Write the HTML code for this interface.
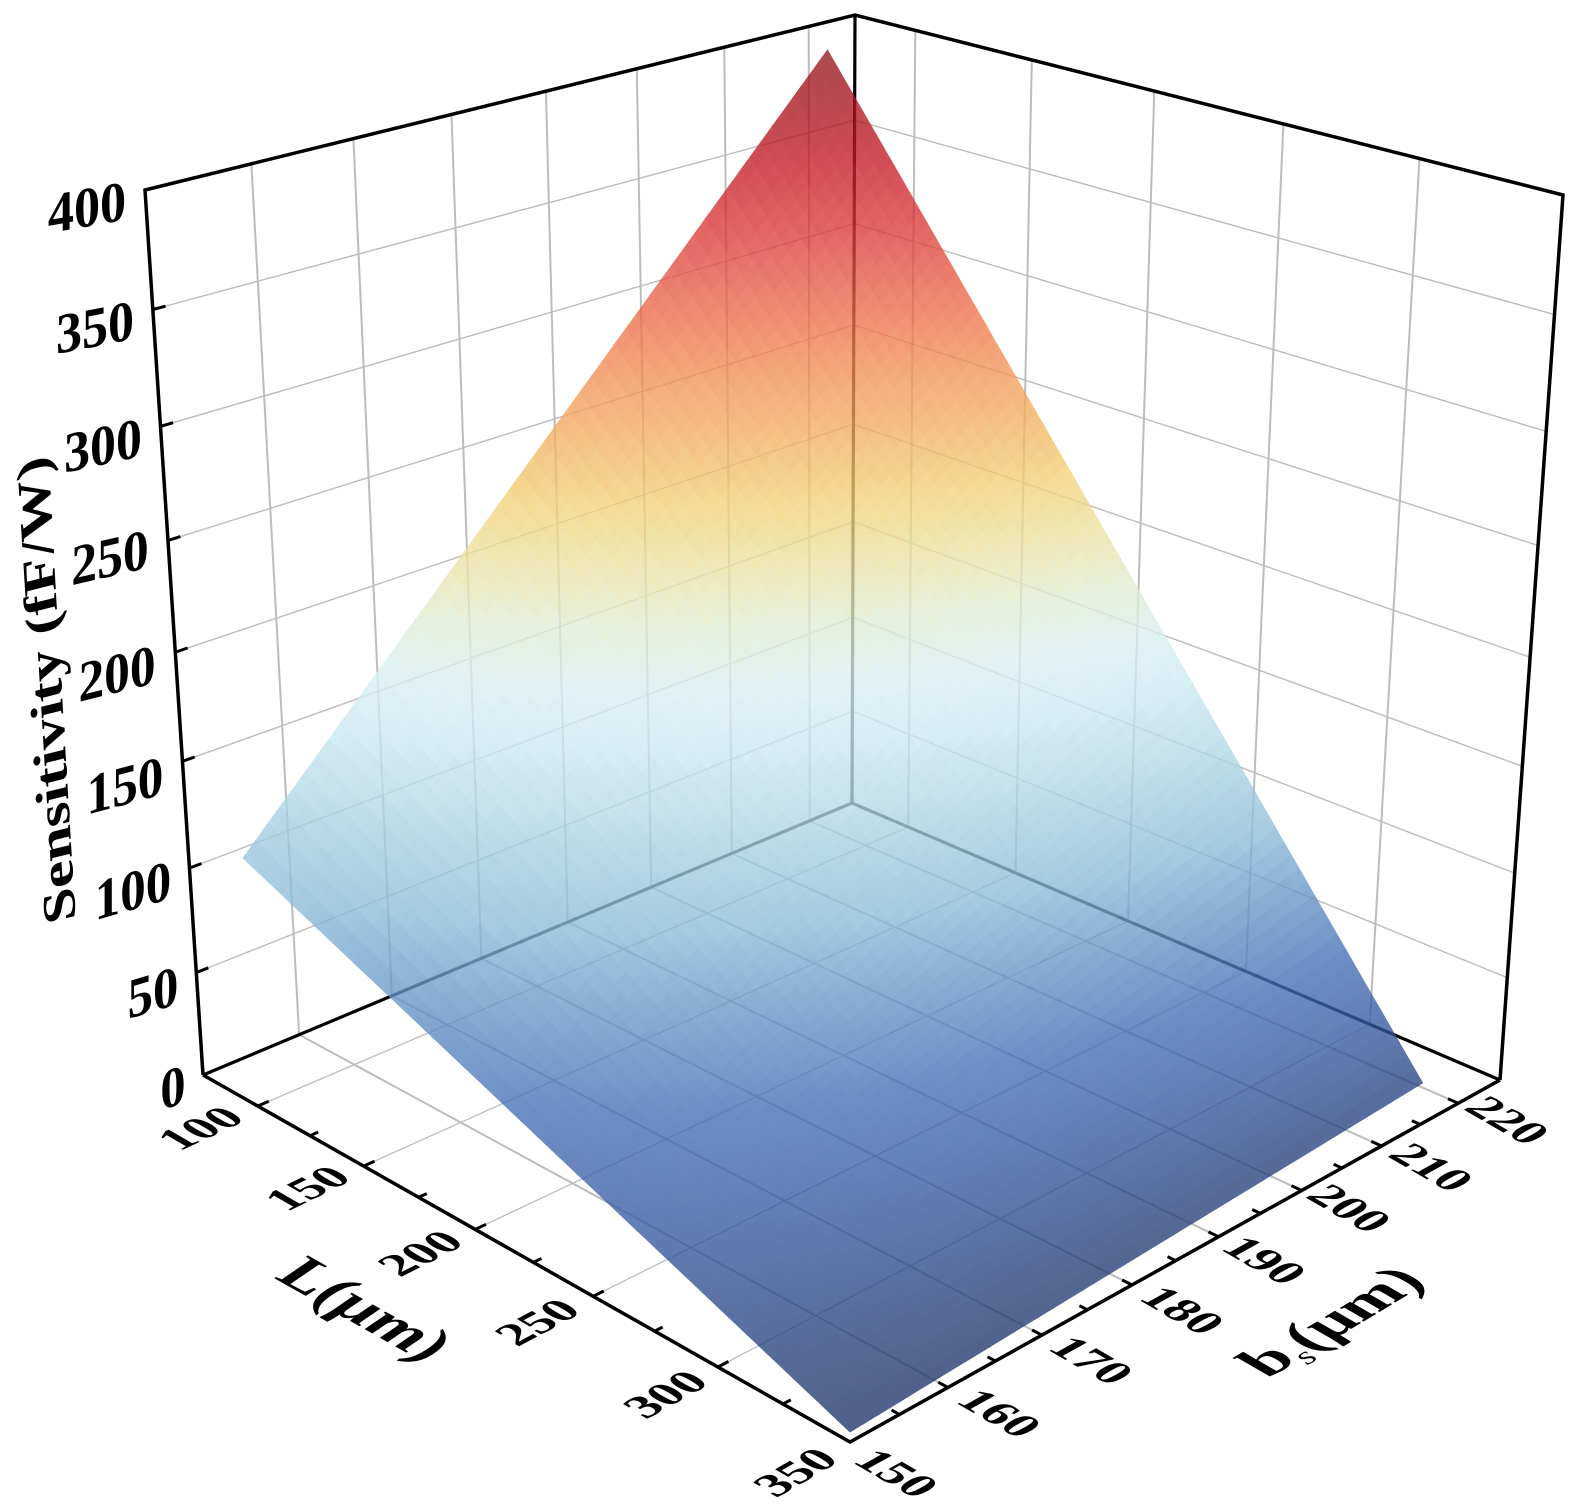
<!DOCTYPE html>
<html><head><meta charset="utf-8">
<style>
html,body{margin:0;padding:0;background:#fff;}
svg{display:block;}
text{font-family:"Liberation Serif","DejaVu Serif",serif;font-weight:bold;fill:#000;}
</style></head>
<body>
<svg id="s" width="1575" height="1511" viewBox="0 0 1575 1511" xmlns="http://www.w3.org/2000/svg">
<defs>
<linearGradient id="fbg" gradientUnits="userSpaceOnUse" x1="0" y1="50" x2="0" y2="1432">
<stop offset="0" stop-color="rgb(165,80,80)"/>
<stop offset="0.072" stop-color="rgb(204,76,84)"/>
<stop offset="0.145" stop-color="rgb(224,100,100)"/>
<stop offset="0.217" stop-color="rgb(242,140,114)"/>
<stop offset="0.289" stop-color="rgb(246,190,130)"/>
<stop offset="0.340" stop-color="rgb(243,216,145)"/>
<stop offset="0.398" stop-color="rgb(232,240,215)"/>
<stop offset="0.470" stop-color="rgb(222,242,246)"/>
<stop offset="0.543" stop-color="rgb(188,220,233)"/>
<stop offset="0.615" stop-color="rgb(150,186,216)"/>
<stop offset="0.688" stop-color="rgb(115,146,200)"/>
<stop offset="0.796" stop-color="rgb(100,128,186)"/>
<stop offset="0.905" stop-color="rgb(90,112,160)"/>
<stop offset="1" stop-color="rgb(80,97,140)"/>
</linearGradient>
</defs>
<rect width="1575" height="1511" fill="#fff"/>
<g id="grid" fill="none"></g>
<g id="back" stroke="#000" stroke-width="3.2" fill="none" stroke-linejoin="miter">
<polyline points="203,1075 852,803 1500,1080"/>
<line x1="855" y1="15" x2="852" y2="803"/>
</g>
<g id="fb"><polygon points="241,858 829,50 1426,1083 849,1432" fill="url(#fbg)" opacity="0.95"/></g>
<g id="surf" opacity="0.78"></g>
<g id="front" stroke="#000" stroke-width="3.5" fill="none" stroke-linejoin="miter">
<polyline points="203,1075 145,190 855,15 1563,195 1500,1080"/>
<polyline points="203,1075 850,1442 1500,1080"/>
</g>
<g id="ticks" stroke="#000" stroke-width="3" fill="none"></g>

<g font-size="53" text-anchor="middle">
<text transform="matrix(0.985,-0.174,0,1.08,87,207)" x="0" y="18">400</text>
<text transform="matrix(0.982,-0.191,0,1.08,95,327)" x="0" y="18">350</text>
<text transform="matrix(0.978,-0.208,0,1.08,103,445)" x="0" y="18">300</text>
<text transform="matrix(0.974,-0.225,0,1.08,110,557)" x="0" y="18">250</text>
<text transform="matrix(0.970,-0.242,0,1.08,117,673)" x="0" y="18">200</text>
<text transform="matrix(0.966,-0.259,0,1.08,125,785)" x="0" y="18">150</text>
<text transform="matrix(0.961,-0.276,0,1.08,133,890)" x="0" y="18">100</text>
<text transform="matrix(0.956,-0.292,0,1.08,153,992)" x="0" y="18">50</text>
<text transform="matrix(0.951,-0.309,0,1.08,173,1087)" x="0" y="18">0</text>
</g>

<g font-size="50" text-anchor="middle">
<text transform="matrix(0.906,-0.423,0.78,0.45,200,1128)" x="0" y="17">100</text>
<text transform="matrix(0.899,-0.438,0.78,0.45,307,1188)" x="0" y="17">150</text>
<text transform="matrix(0.891,-0.454,0.78,0.45,420,1253)" x="0" y="17">200</text>
<text transform="matrix(0.883,-0.469,0.78,0.45,537,1322)" x="0" y="17">250</text>
<text transform="matrix(0.875,-0.485,0.78,0.45,665,1394)" x="0" y="17">300</text>
<text transform="matrix(0.866,-0.500,0.78,0.45,795,1472)" x="0" y="17">350</text>
</g>

<g font-size="50" text-anchor="middle">
<text transform="matrix(0.866,0.5,-0.79,0.44,897,1473)" x="0" y="17">150</text>
<text transform="matrix(0.866,0.5,-0.79,0.44,1000,1413)" x="0" y="17">160</text>
<text transform="matrix(0.866,0.5,-0.79,0.44,1092,1360)" x="0" y="17">170</text>
<text transform="matrix(0.866,0.5,-0.79,0.44,1183,1310)" x="0" y="17">180</text>
<text transform="matrix(0.866,0.5,-0.79,0.44,1265,1260)" x="0" y="17">190</text>
<text transform="matrix(0.866,0.5,-0.79,0.44,1350,1208)" x="0" y="17">200</text>
<text transform="matrix(0.866,0.5,-0.79,0.44,1432,1167)" x="0" y="17">210</text>
<text transform="matrix(0.866,0.5,-0.79,0.44,1508,1120)" x="0" y="17">220</text>
</g>

<text transform="matrix(-0.06,-0.998,0.8,-0.2,48,690)" x="0" y="17" font-size="58" text-anchor="middle" textLength="466" lengthAdjust="spacingAndGlyphs">Sensitivity (fF/W)</text>
<text transform="matrix(0.87,0.49,-0.6,0.6,364,1310)" x="0" y="20" font-size="68" font-style="italic" text-anchor="middle">L(μm)</text>
<text transform="matrix(0.857,-0.515,0.78,0.45,1332,1322)" x="0" y="20" font-size="66" text-anchor="middle"><tspan>b</tspan><tspan font-size="36" font-style="italic" font-weight="normal" dy="11">s</tspan><tspan dy="-11">(μm)</tspan></text>
</svg>

<script>
(function(){
var P=[[0,0,0,203,1075],[1,0,0,850,1442],[1,1,0,1500,1080],[0,1,0,852,803],[0,0,1,145,190],[0,1,1,855,15],[1,1,1,1563,195]];
var SC=700,CX=850,CY=750;
function solve(A,b){var n=A.length,i,r,c;for(i=0;i<n;i++){var p=i;for(r=i+1;r<n;r++)if(Math.abs(A[r][i])>Math.abs(A[p][i]))p=r;var t=A[i];A[i]=A[p];A[p]=t;var tb=b[i];b[i]=b[p];b[p]=tb;for(r=i+1;r<n;r++){var f=A[r][i]/A[i][i];for(c=i;c<n;c++)A[r][c]-=f*A[i][c];b[r]-=f*b[i];}}var x=[];for(i=0;i<n;i++)x.push(0);for(i=n-1;i>=0;i--){var s=b[i];for(c=i+1;c<n;c++)s-=A[i][c]*x[c];x[i]=s/A[i][i];}return x;}
var rows=[],rhs=[];
P.forEach(function(q){var X=q[0],Y=q[1],Z=q[2],x=(q[3]-CX)/SC,y=(q[4]-CY)/SC;
rows.push([X,Y,Z,1,0,0,0,0,-x*X,-x*Y,-x*Z]);rhs.push(x);
rows.push([0,0,0,0,X,Y,Z,1,-y*X,-y*Y,-y*Z]);rhs.push(y);});
var N=[],B=[],i,j,k;
for(i=0;i<11;i++){var rr=[];for(j=0;j<11;j++)rr.push(0);N.push(rr);B.push(0);}
for(k=0;k<rows.length;k++){var r=rows[k];for(i=0;i<11;i++){B[i]+=r[i]*rhs[k];for(j=0;j<11;j++)N[i][j]+=r[i]*r[j];}}
var p=solve(N,B);
function pr(u,v,w){var d=p[8]*u+p[9]*v+p[10]*w+1;return[((p[0]*u+p[1]*v+p[2]*w+p[3])/d)*SC+CX,((p[4]*u+p[5]*v+p[6]*w+p[7])/d)*SC+CY];}
function wFromY(u,v,yo){var y=(yo-CY)/SC;var num=y*(p[8]*u+p[9]*v+1)-(p[4]*u+p[5]*v+p[7]);var den=p[6]-y*p[10];return num/den;}
var Lmin=73,Lmax=350,Bmin=150,Bmax=225.6;
function U(L){return(L-Lmin)/(Lmax-Lmin);}
function V(b){return(b-Bmin)/(Bmax-Bmin);}
function f1(a){return a[0].toFixed(1)+','+a[1].toFixed(1);}
function ln(a,b,col,w){return '<line x1="'+a[0].toFixed(1)+'" y1="'+a[1].toFixed(1)+'" x2="'+b[0].toFixed(1)+'" y2="'+b[1].toFixed(1)+'" stroke="'+col+'" stroke-width="'+w+'"/>';}
var g='',z,L,b,gc='#bcbcbc';
for(z=50;z<=350;z+=50){g+=ln(pr(0,0,z/400),pr(0,1,z/400),gc,1.4);}
for(b=160;b<=220;b+=10){g+=ln(pr(0,V(b),0),pr(0,V(b),1),gc,2);}
for(z=50;z<=350;z+=50){g+=ln(pr(0,1,z/400),pr(1,1,z/400),gc,1.4);}
for(L=100;L<=300;L+=50){g+=ln(pr(U(L),1,0),pr(U(L),1,1),gc,2);}
for(L=100;L<=300;L+=50){g+=ln(pr(U(L),0,0),pr(U(L),1,0),gc,1.3);}
for(b=160;b<=220;b+=10){g+=ln(pr(0,V(b),0),pr(1,V(b),0),gc,2);}
document.getElementById('grid').innerHTML=g;
function tick(a,tgt,len){var dx=tgt[0]-a[0],dy=tgt[1]-a[1],m=Math.sqrt(dx*dx+dy*dy);return ln(a,[a[0]+dx/m*len,a[1]+dy/m*len],'#000',3);}
var t='';
for(z=50;z<=350;z+=50){t+=tick(pr(0,0,z/400),pr(0,0.05,z/400),13);}
for(L=100;L<=325;L+=25){t+=tick(pr(U(L),0,0),pr(U(L),0.05,0),(L%50==0)?12:9);}
for(b=155;b<=220;b+=5){t+=tick(pr(1,V(b),0),pr(0.95,V(b),0),(b%10==0)?11:9);}
document.getElementById('ticks').innerHTML=t;
var z00=400*wFromY(U(100),V(150),858),z01=400*wFromY(U(100),V(215),50),z10=400*wFromY(U(350),V(150),1432),z11=400*wFromY(U(350),V(215),1083);
function zf(L,b){var s=(L-100)/250,q=(b-150)/65;return z00*(1-s)*(1-q)+z01*(1-s)*q+z10*s*(1-q)+z11*s*q;}
var CM=[[0,76,92,132],[12,84,103,146],[25,90,113,163],[45,100,128,184],[65,110,142,198],[85,132,168,210],[110,166,202,224],[135,190,221,234],[160,214,237,244],[180,225,243,245],[200,232,240,218],[220,240,232,180],[240,245,218,146],[262,246,192,130],[285,245,165,122],[310,238,132,112],[335,226,100,100],[360,208,76,86],[385,185,72,80],[410,160,78,78],[500,150,75,75]];
var A=0.78;
function col(zz){if(zz<=CM[0][0])zz=CM[0][0];var lo=CM[0],hi=CM[CM.length-1];for(var n=0;n<CM.length-1;n++){if(zz>=CM[n][0]&&zz<=CM[n+1][0]){lo=CM[n];hi=CM[n+1];break;}}var fr=(hi[0]==lo[0])?0:(zz-lo[0])/(hi[0]-lo[0]);var out=[];for(var c=1;c<4;c++){var o=lo[c]+(hi[c]-lo[c])*fr;var v=(o-255*(1-A))/A;v=Math.max(0,Math.min(255,Math.round(v)));out.push(v);}return 'rgb('+out.join(',')+')';}
var NL=80,NB=50,s='';
for(i=0;i<NL;i++){var L0=100+250*i/NL,L1=100+250*(i+1)/NL;
for(j=NB-1;j>=0;j--){var b0=150+65*j/NB,b1=150+65*(j+1)/NB;
var p1=pr(U(L0),V(b0),zf(L0,b0)/400),p2=pr(U(L1),V(b0),zf(L1,b0)/400),p3=pr(U(L1),V(b1),zf(L1,b1)/400),p4=pr(U(L0),V(b1),zf(L0,b1)/400);
var c=col(zf((L0+L1)/2,(b0+b1)/2));
s+='<polygon points="'+f1(p1)+' '+f1(p2)+' '+f1(p3)+' '+f1(p4)+'" fill="'+c+'" stroke="'+c+'" stroke-width="0.8"/>';}}
document.getElementById('surf').innerHTML=s;
var fb=document.getElementById('fb');fb.parentNode.removeChild(fb);
})();
</script>
</body></html>
